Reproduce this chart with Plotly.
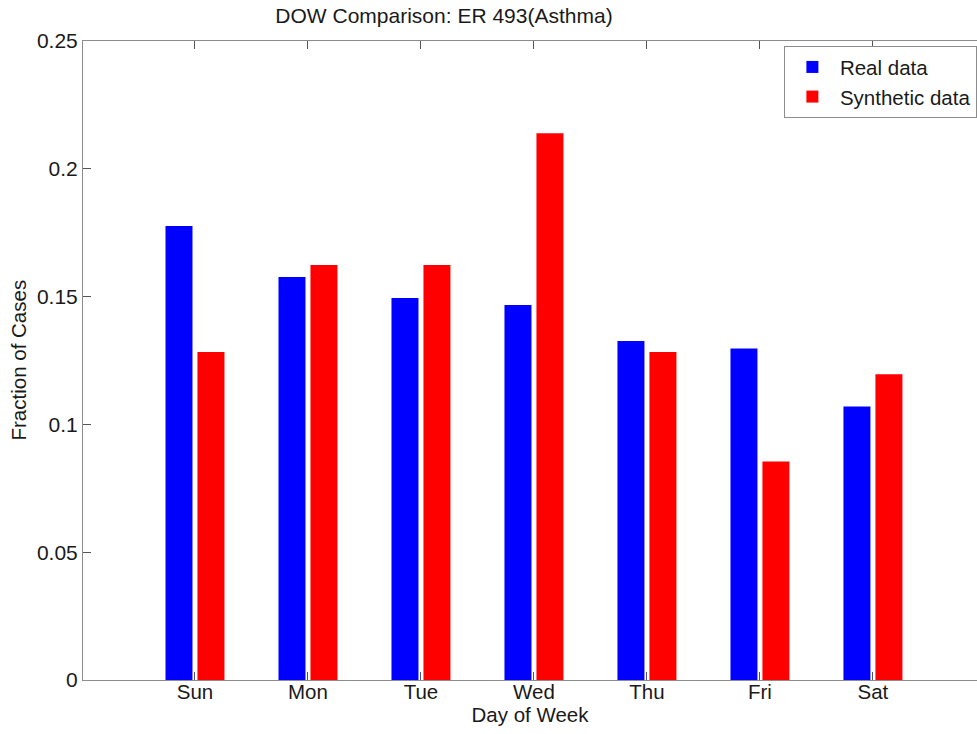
import plotly.graph_objects as go

days = ["Sun", "Mon", "Tue", "Wed", "Thu", "Fri", "Sat"]
real_data = [0.1776, 0.1577, 0.1495, 0.1467, 0.1326, 0.1297, 0.1070]
synthetic_data = [0.1283, 0.1624, 0.1624, 0.2139, 0.1283, 0.0855, 0.1196]
y_ticks = [0, 0.05, 0.1, 0.15, 0.2, 0.25]
y_tick_text = ["0", "0.05", "0.1", "0.15", "0.2", "0.25"]

FONT = "Liberation Sans, Arial, Helvetica, sans-serif"
AXIS = "#8c8c8c"
TXT = "#1a1a1a"

fig = go.Figure()
fig.add_trace(go.Bar(x=days, y=real_data, name="Real data",
                     marker=dict(color="#0000FF", line=dict(width=0))))
fig.add_trace(go.Bar(x=days, y=synthetic_data, name="Synthetic data",
                     marker=dict(color="#FF0000", line=dict(width=0))))

W, H = 977, 734
L, T, B = 83, 41, 54
fig.update_layout(
    width=W, height=H,
    margin=dict(l=L, r=0, t=T, b=B),
    paper_bgcolor="white", plot_bgcolor="white",
    barmode="group", bargap=0.434, bargroupgap=0.156,
    font=dict(family=FONT, size=20.5, color=TXT),
    title=dict(text="DOW Comparison: ER 493(Asthma)", x=444/W, xanchor="center",
               xref="container", y=1-16/H, yanchor="middle", yref="container",
               font=dict(family=FONT, size=21, color=TXT)),
    showlegend=True,
    legend=dict(x=0.784, y=0.992, xanchor="left", yanchor="top",
                bgcolor="white", bordercolor=AXIS, borderwidth=1,
                font=dict(family=FONT, size=20.5, color=TXT),
                itemwidth=45, tracegroupgap=0),
    annotations=[dict(text="Fraction of Cases", textangle=-90,
                      xref="paper", yref="paper",
                      x=(18 - L) / (W - L), y=0.5,
                      xanchor="center", yanchor="middle", showarrow=False,
                      font=dict(family=FONT, size=20.5, color=TXT))],
)
fig.update_xaxes(
    range=[-0.991, 6.921], showgrid=False, zeroline=False,
    showline=True, linecolor=AXIS, linewidth=1, mirror="ticks",
    ticks="inside", ticklen=8, tickcolor="#555",
    tickfont=dict(size=20.5), ticklabelstandoff=-7,
    title=dict(text="Day of Week", standoff=4, font=dict(size=20.5)),
)
fig.update_yaxes(
    range=[0, 0.25], tickvals=y_ticks, ticktext=y_tick_text,
    showgrid=False, zeroline=False,
    showline=True, linecolor=AXIS, linewidth=1, mirror=False,
    ticks="inside", ticklen=8, tickcolor="#555",
    tickfont=dict(size=21),
)

# remove the default 8px page margin so the figure fills the window exactly
fig.write_html("out.html", config={"displayModeBar": False},
               post_script="document.body.style.margin='0';")
